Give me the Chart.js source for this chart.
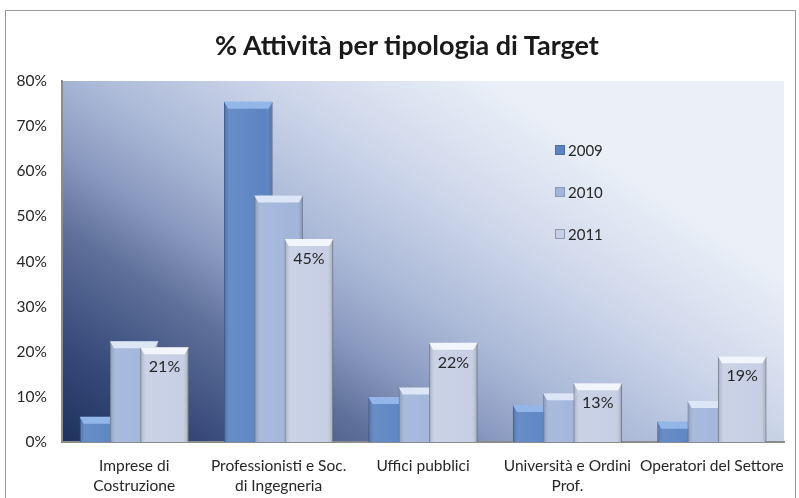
<!DOCTYPE html>
<html>
<head>
<meta charset="utf-8">
<script src="https://cdn.jsdelivr.net/npm/chart.js@4.4.1/dist/chart.umd.min.js"></script>
<style>
  html, body { margin: 0; padding: 0; background: #fff; }
  #wrap { position: relative; width: 799px; height: 498px; overflow: hidden; }
  #frame { position: absolute; left: 5px; top: 10px; width: 791px; height: 500px; border: 1px solid #9a9a9a; box-sizing: border-box; }
  #title { position: absolute; left: 0; top: 29px; width: 814px; text-align: center;
           font: bold 27px Lato, "Open Sans", sans-serif; line-height: 32px; color: #1a1a1a; }
  canvas { position: absolute; left: 0; top: 0; }
</style>
</head>
<body>
<div id="wrap">
  <div id="frame"></div>
  <canvas id="chart" width="799" height="498"></canvas>
  <div id="title">% Attività per tipologia di Target</div>
</div>
<script>
// data
var categories = [
    ['Imprese di', 'Costruzione'],
    ['Professionisti e Soc.', 'di Ingegneria'],
    'Uffici pubblici',
    ['Università e Ordini', 'Prof.'],
    'Operatori del Settore'
];
var years = ['2009', '2010', '2011'];
var values2009 = [5.6, 75.4, 10, 8.2, 4.5];
var values2010 = [22.3, 54.6, 12.1, 10.8, 9.1];
var values2011 = [21, 45, 22, 13, 19];
var yTicks = [0, 10, 20, 30, 40, 50, 60, 70, 80];

var barColors = ['#5b84c2', '#a2b5da', '#c6cfe4'];
var topColors = ['#93b6e8', '#dce6f6', '#f2f5fb'];
var edgeColors = ['#4a6ea6', '#8797b8', '#8f98ad'];
var fontFamily = 'Lato, "Open Sans", sans-serif';

// plot area background: dark bottom-left to light top-right
var backgroundPlugin = {
    id: 'plotBackground',
    beforeDraw: function (chart) {
        var a = chart.chartArea, ctx = chart.ctx;
        var g = ctx.createLinearGradient(a.left, a.bottom, a.left + 300, a.bottom - 450);
        g.addColorStop(0, '#1e325d');
        g.addColorStop(0.15, '#364979');
        g.addColorStop(0.33, '#5f709a');
        g.addColorStop(0.45, '#8a99bf');
        g.addColorStop(0.58, '#abb9d8');
        g.addColorStop(0.78, '#cfd8eb');
        g.addColorStop(1, '#ebf0f8');
        ctx.save();
        ctx.fillStyle = g;
        ctx.fillRect(a.left, a.top, a.right - a.left, a.bottom - a.top);
        ctx.restore();
    }
};

// draw 2009 first so 2011 sits on top, then add a bevel look
var barOrderPlugin = {
    id: 'barOrder',
    beforeDatasetsDraw: function (chart) {
        var ctx = chart.ctx;
        for (var i = 0; i < chart.data.datasets.length; i++) {
            var meta = chart.getDatasetMeta(i);
            meta.controller.draw();
            meta.data.forEach(function (bar) {
                var left = bar.x - bar.width / 2, w = bar.width;
                var h = bar.base - bar.y;
                ctx.save();
                var side = ctx.createLinearGradient(left, 0, left + w, 0);
                side.addColorStop(0, 'rgba(0,0,0,0.18)');
                side.addColorStop(0.12, 'rgba(255,255,255,0.08)');
                side.addColorStop(0.85, 'rgba(255,255,255,0)');
                side.addColorStop(1, 'rgba(0,0,0,0.22)');
                ctx.fillStyle = side;
                ctx.fillRect(left, bar.y, w, h);
                var bevel = Math.min(7, h);
                ctx.fillStyle = topColors[i];
                ctx.beginPath();
                ctx.moveTo(left, bar.y);
                ctx.lineTo(left + w, bar.y);
                ctx.lineTo(left + w - 4, bar.y + bevel);
                ctx.lineTo(left + 4, bar.y + bevel);
                ctx.closePath();
                ctx.fill();
                ctx.restore();
            });
        }
        return false;
    },
    afterDraw: function (chart) {
        var ctx = chart.ctx;
        // value labels on the 2011 bars
        var meta = chart.getDatasetMeta(2);
        ctx.save();
        ctx.font = '16px ' + fontFamily;
        ctx.fillStyle = '#262626';
        ctx.textAlign = 'center';
        ctx.textBaseline = 'middle';
        meta.data.forEach(function (bar, idx) {
            ctx.fillText(Math.round(values2011[idx]) + '%', bar.x, bar.y + 20);
        });
        // legend inside the plot area
        var lx = chart.chartArea.left + 493, ly = chart.chartArea.top + 69;
        ctx.font = '15px ' + fontFamily;
        ctx.textAlign = 'left';
        for (var i = 0; i < years.length; i++) {
            var y = ly + i * 42;
            ctx.fillStyle = barColors[i];
            ctx.fillRect(lx, y - 5, 10, 10);
            ctx.strokeStyle = edgeColors[i];
            ctx.lineWidth = 1;
            ctx.strokeRect(lx + 0.5, y - 4.5, 9, 9);
            ctx.fillStyle = '#262626';
            ctx.fillText(years[i], lx + 13, y + 1);
        }
        ctx.restore();
    }
};

var ctx = document.getElementById('chart').getContext('2d');
var chart = new Chart(ctx, {
    type: 'bar',
    data: {
        labels: categories,
        datasets: [
            { label: years[0], data: values2009 },
            { label: years[1], data: values2010 },
            { label: years[2], data: values2011 }
        ].map(function (ds, i) {
            ds.backgroundColor = barColors[i];
            ds.borderColor = edgeColors[i];
            ds.borderWidth = 1;
            ds.categoryPercentage = 0.63;
            ds.barPercentage = 1.6;
            return ds;
        })
    },
    plugins: [backgroundPlugin, barOrderPlugin],
    options: {
        responsive: false,
        animation: false,
        // title sits above in its own div, so leave room for it
        layout: { padding: { left: 0, right: 13, top: 81, bottom: 0 } },
        plugins: {
            legend: { display: false },
            tooltip: { enabled: false },
            title: { display: false }
        },
        scales: {
            x: {
                grid: { display: false, drawTicks: false },
                border: { display: true, color: '#8c8c8c', width: 2 },
                ticks: {
                    color: '#262626',
                    padding: 14,
                    maxRotation: 0,
                    autoSkip: false,
                    font: { family: fontFamily, size: 15.5, lineHeight: 1.3 }
                },
                afterFit: function (scale) { scale.height = 56; }
            },
            y: {
                min: 0,
                max: 80,
                grid: { display: false, drawTicks: false },
                border: { display: true, color: '#8c8c8c', width: 2 },
                afterBuildTicks: function (scale) {
                    scale.ticks = yTicks.map(function (v) { return { value: v }; });
                },
                ticks: {
                    color: '#262626',
                    padding: 15,
                    font: { family: fontFamily, size: 15.5 },
                    callback: function (v) { return v + '%'; }
                },
                afterFit: function (scale) { scale.width = 62; }
            }
        }
    }
});
</script>
</body>
</html>
